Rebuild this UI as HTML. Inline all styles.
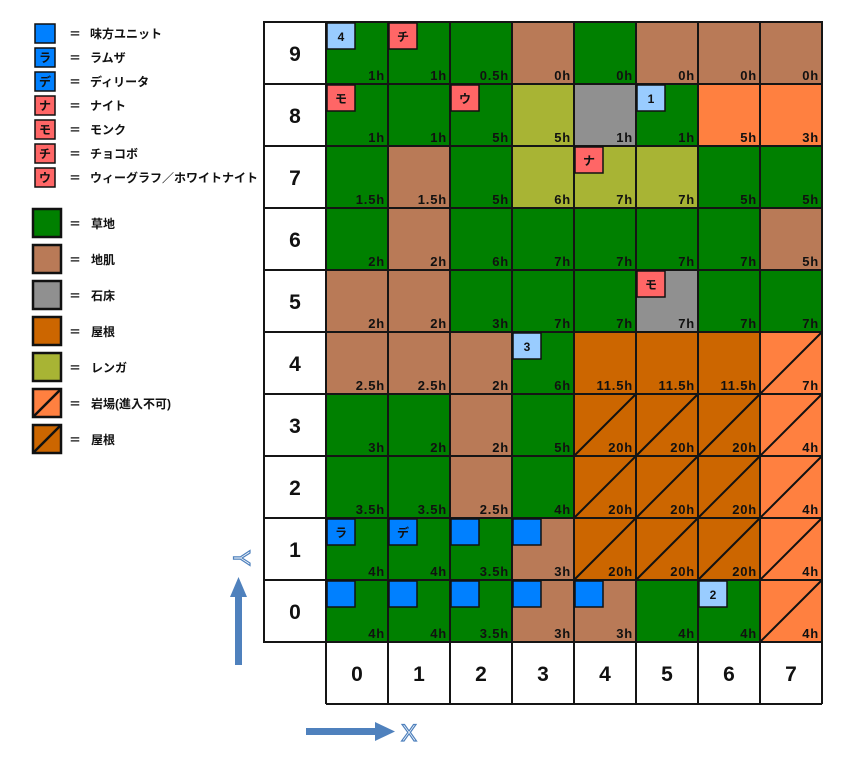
<!DOCTYPE html>
<html><head><meta charset="utf-8"><style>
body{margin:0;background:#fff;}
svg{display:block;font-family:"Liberation Sans","Noto Sans CJK JP",sans-serif;}
.c{font-size:13px;font-weight:bold;fill:#111;text-anchor:end;letter-spacing:0.8px;}
.u{font-size:12px;font-weight:bold;fill:#111;text-anchor:middle;}
.l{font-size:12px;font-weight:bold;fill:#111;}
.n{font-size:21px;font-weight:bold;fill:#111;text-anchor:middle;}
</style></head><body>
<svg width="844" height="762" viewBox="0 0 844 762" xmlns="http://www.w3.org/2000/svg">
<defs>
<g id="d"><line x1="0" y1="62" x2="62" y2="0" stroke="#111" stroke-width="2"/></g>
</defs>
<g stroke="#111" stroke-width="1.5">
<rect x="35" y="24" width="20" height="19" fill="#0080ff"/>
<rect x="35" y="48" width="20" height="19" fill="#0080ff"/>
<rect x="35" y="72" width="20" height="19" fill="#0080ff"/>
<rect x="35" y="96" width="20" height="19" fill="#ff6666"/>
<rect x="35" y="120" width="20" height="19" fill="#ff6666"/>
<rect x="35" y="144" width="20" height="19" fill="#ff6666"/>
<rect x="35" y="168" width="20" height="19" fill="#ff6666"/>
</g>
<g>
<text x="45" y="62" class="u">ラ</text><text x="45" y="86" class="u">デ</text>
<text x="45" y="110" class="u">ナ</text><text x="45" y="134" class="u">モ</text>
<text x="45" y="158" class="u">チ</text><text x="45" y="182" class="u">ウ</text>
</g>
<g class="l">
<text x="69" y="38">＝</text><text x="90" y="38">味方ユニット</text>
<text x="69" y="62">＝</text><text x="90" y="62">ラムザ</text>
<text x="69" y="86">＝</text><text x="90" y="86">ディリータ</text>
<text x="69" y="110">＝</text><text x="90" y="110">ナイト</text>
<text x="69" y="134">＝</text><text x="90" y="134">モンク</text>
<text x="69" y="158">＝</text><text x="90" y="158">チョコボ</text>
<text x="69" y="182">＝</text><text x="90" y="182">ウィーグラフ／ホワイトナイト</text>
</g>
<g stroke="#111" stroke-width="2.5">
<rect x="33" y="209" width="28" height="28" fill="#008000"/>
<rect x="33" y="245" width="28" height="28" fill="#b97a57"/>
<rect x="33" y="281" width="28" height="28" fill="#909090"/>
<rect x="33" y="317" width="28" height="28" fill="#cc6600"/>
<rect x="33" y="353" width="28" height="28" fill="#a8b434"/>
<rect x="33" y="389" width="28" height="28" fill="#ff8040"/>
<line x1="33" y1="417" x2="61" y2="389"/>
<rect x="33" y="425" width="28" height="28" fill="#cc6600"/>
<line x1="33" y1="453" x2="61" y2="425"/>
</g>
<g class="l">
<text x="69" y="228">＝</text><text x="91" y="228">草地</text>
<text x="69" y="264">＝</text><text x="91" y="264">地肌</text>
<text x="69" y="300">＝</text><text x="91" y="300">石床</text>
<text x="69" y="336">＝</text><text x="91" y="336">屋根</text>
<text x="69" y="372">＝</text><text x="91" y="372">レンガ</text>
<text x="69" y="408">＝</text><text x="91" y="408">岩場(進入不可)</text>
<text x="69" y="444">＝</text><text x="91" y="444">屋根</text>
</g>
<g>
<rect x="326" y="22" width="62" height="62" fill="#008000"/><rect x="388" y="22" width="62" height="62" fill="#008000"/><rect x="450" y="22" width="62" height="62" fill="#008000"/><rect x="512" y="22" width="62" height="62" fill="#b97a57"/><rect x="574" y="22" width="62" height="62" fill="#008000"/><rect x="636" y="22" width="62" height="62" fill="#b97a57"/><rect x="698" y="22" width="62" height="62" fill="#b97a57"/><rect x="760" y="22" width="62" height="62" fill="#b97a57"/>
<rect x="326" y="84" width="62" height="62" fill="#008000"/><rect x="388" y="84" width="62" height="62" fill="#008000"/><rect x="450" y="84" width="62" height="62" fill="#008000"/><rect x="512" y="84" width="62" height="62" fill="#a8b434"/><rect x="574" y="84" width="62" height="62" fill="#909090"/><rect x="636" y="84" width="62" height="62" fill="#008000"/><rect x="698" y="84" width="62" height="62" fill="#ff8040"/><rect x="760" y="84" width="62" height="62" fill="#ff8040"/>
<rect x="326" y="146" width="62" height="62" fill="#008000"/><rect x="388" y="146" width="62" height="62" fill="#b97a57"/><rect x="450" y="146" width="62" height="62" fill="#008000"/><rect x="512" y="146" width="62" height="62" fill="#a8b434"/><rect x="574" y="146" width="62" height="62" fill="#a8b434"/><rect x="636" y="146" width="62" height="62" fill="#a8b434"/><rect x="698" y="146" width="62" height="62" fill="#008000"/><rect x="760" y="146" width="62" height="62" fill="#008000"/>
<rect x="326" y="208" width="62" height="62" fill="#008000"/><rect x="388" y="208" width="62" height="62" fill="#b97a57"/><rect x="450" y="208" width="62" height="62" fill="#008000"/><rect x="512" y="208" width="62" height="62" fill="#008000"/><rect x="574" y="208" width="62" height="62" fill="#008000"/><rect x="636" y="208" width="62" height="62" fill="#008000"/><rect x="698" y="208" width="62" height="62" fill="#008000"/><rect x="760" y="208" width="62" height="62" fill="#b97a57"/>
<rect x="326" y="270" width="62" height="62" fill="#b97a57"/><rect x="388" y="270" width="62" height="62" fill="#b97a57"/><rect x="450" y="270" width="62" height="62" fill="#008000"/><rect x="512" y="270" width="62" height="62" fill="#008000"/><rect x="574" y="270" width="62" height="62" fill="#008000"/><rect x="636" y="270" width="62" height="62" fill="#909090"/><rect x="698" y="270" width="62" height="62" fill="#008000"/><rect x="760" y="270" width="62" height="62" fill="#008000"/>
<rect x="326" y="332" width="62" height="62" fill="#b97a57"/><rect x="388" y="332" width="62" height="62" fill="#b97a57"/><rect x="450" y="332" width="62" height="62" fill="#b97a57"/><rect x="512" y="332" width="62" height="62" fill="#008000"/><rect x="574" y="332" width="62" height="62" fill="#cc6600"/><rect x="636" y="332" width="62" height="62" fill="#cc6600"/><rect x="698" y="332" width="62" height="62" fill="#cc6600"/><rect x="760" y="332" width="62" height="62" fill="#ff8040"/>
<rect x="326" y="394" width="62" height="62" fill="#008000"/><rect x="388" y="394" width="62" height="62" fill="#008000"/><rect x="450" y="394" width="62" height="62" fill="#b97a57"/><rect x="512" y="394" width="62" height="62" fill="#008000"/><rect x="574" y="394" width="186" height="62" fill="#cc6600"/><rect x="760" y="394" width="62" height="62" fill="#ff8040"/>
<rect x="326" y="456" width="62" height="62" fill="#008000"/><rect x="388" y="456" width="62" height="62" fill="#008000"/><rect x="450" y="456" width="62" height="62" fill="#b97a57"/><rect x="512" y="456" width="62" height="62" fill="#008000"/><rect x="574" y="456" width="186" height="62" fill="#cc6600"/><rect x="760" y="456" width="62" height="62" fill="#ff8040"/>
<rect x="326" y="518" width="62" height="62" fill="#008000"/><rect x="388" y="518" width="62" height="62" fill="#008000"/><rect x="450" y="518" width="62" height="62" fill="#008000"/><rect x="512" y="518" width="62" height="62" fill="#b97a57"/><rect x="574" y="518" width="186" height="62" fill="#cc6600"/><rect x="760" y="518" width="62" height="62" fill="#ff8040"/>
<rect x="326" y="580" width="62" height="62" fill="#008000"/><rect x="388" y="580" width="62" height="62" fill="#008000"/><rect x="450" y="580" width="62" height="62" fill="#008000"/><rect x="512" y="580" width="62" height="62" fill="#b97a57"/><rect x="574" y="580" width="62" height="62" fill="#b97a57"/><rect x="636" y="580" width="62" height="62" fill="#008000"/><rect x="698" y="580" width="62" height="62" fill="#008000"/><rect x="760" y="580" width="62" height="62" fill="#ff8040"/>
</g>
<use href="#d" x="760" y="332"/>
<use href="#d" x="574" y="394"/><use href="#d" x="636" y="394"/><use href="#d" x="698" y="394"/><use href="#d" x="760" y="394"/>
<use href="#d" x="574" y="456"/><use href="#d" x="636" y="456"/><use href="#d" x="698" y="456"/><use href="#d" x="760" y="456"/>
<use href="#d" x="574" y="518"/><use href="#d" x="636" y="518"/><use href="#d" x="698" y="518"/><use href="#d" x="760" y="518"/>
<use href="#d" x="760" y="580"/>
<g stroke="#151515" stroke-width="2" fill="none">
<rect x="264" y="22" width="558" height="620"/>
<line x1="326" y1="22" x2="326" y2="704"/><line x1="388" y1="22" x2="388" y2="704"/><line x1="450" y1="22" x2="450" y2="704"/><line x1="512" y1="22" x2="512" y2="704"/><line x1="574" y1="22" x2="574" y2="704"/><line x1="636" y1="22" x2="636" y2="704"/><line x1="698" y1="22" x2="698" y2="704"/><line x1="760" y1="22" x2="760" y2="704"/><line x1="822" y1="22" x2="822" y2="704"/>
<line x1="264" y1="84" x2="822" y2="84"/><line x1="264" y1="146" x2="822" y2="146"/><line x1="264" y1="208" x2="822" y2="208"/><line x1="264" y1="270" x2="822" y2="270"/><line x1="264" y1="332" x2="822" y2="332"/><line x1="264" y1="394" x2="822" y2="394"/><line x1="264" y1="456" x2="822" y2="456"/><line x1="264" y1="518" x2="822" y2="518"/><line x1="264" y1="580" x2="822" y2="580"/>
<line x1="326" y1="704" x2="822" y2="704"/>
</g>
<g stroke="#111" stroke-width="1.5">
<rect x="327" y="23" width="28" height="26" fill="#99ccff"/><rect x="389" y="23" width="28" height="26" fill="#ff6666"/>
<rect x="327" y="85" width="28" height="26" fill="#ff6666"/><rect x="451" y="85" width="28" height="26" fill="#ff6666"/><rect x="637" y="85" width="28" height="26" fill="#99ccff"/>
<rect x="575" y="147" width="28" height="26" fill="#ff6666"/>
<rect x="637" y="271" width="28" height="26" fill="#ff6666"/>
<rect x="513" y="333" width="28" height="26" fill="#99ccff"/>
<rect x="327" y="519" width="28" height="26" fill="#0080ff"/><rect x="389" y="519" width="28" height="26" fill="#0080ff"/><rect x="451" y="519" width="28" height="26" fill="#0080ff"/><rect x="513" y="519" width="28" height="26" fill="#0080ff"/>
<rect x="327" y="581" width="28" height="26" fill="#0080ff"/><rect x="389" y="581" width="28" height="26" fill="#0080ff"/><rect x="451" y="581" width="28" height="26" fill="#0080ff"/><rect x="513" y="581" width="28" height="26" fill="#0080ff"/><rect x="575" y="581" width="28" height="26" fill="#0080ff"/>
<rect x="699" y="581" width="28" height="26" fill="#99ccff"/>
</g>
<g>
<text x="341" y="41" class="u">4</text><text x="403" y="41" class="u">チ</text>
<text x="341" y="103" class="u">モ</text><text x="465" y="103" class="u">ウ</text><text x="651" y="103" class="u">1</text>
<text x="589" y="165" class="u">ナ</text>
<text x="651" y="289" class="u">モ</text>
<text x="527" y="351" class="u">3</text>
<text x="341" y="537" class="u">ラ</text><text x="403" y="537" class="u">デ</text>
<text x="713" y="599" class="u">2</text>
</g>
<g class="c">
<text x="385" y="80">1h</text><text x="447" y="80">1h</text><text x="509" y="80">0.5h</text><text x="571" y="80">0h</text><text x="633" y="80">0h</text><text x="695" y="80">0h</text><text x="757" y="80">0h</text><text x="819" y="80">0h</text>
<text x="385" y="142">1h</text><text x="447" y="142">1h</text><text x="509" y="142">5h</text><text x="571" y="142">5h</text><text x="633" y="142">1h</text><text x="695" y="142">1h</text><text x="757" y="142">5h</text><text x="819" y="142">3h</text>
<text x="385" y="204">1.5h</text><text x="447" y="204">1.5h</text><text x="509" y="204">5h</text><text x="571" y="204">6h</text><text x="633" y="204">7h</text><text x="695" y="204">7h</text><text x="757" y="204">5h</text><text x="819" y="204">5h</text>
<text x="385" y="266">2h</text><text x="447" y="266">2h</text><text x="509" y="266">6h</text><text x="571" y="266">7h</text><text x="633" y="266">7h</text><text x="695" y="266">7h</text><text x="757" y="266">7h</text><text x="819" y="266">5h</text>
<text x="385" y="328">2h</text><text x="447" y="328">2h</text><text x="509" y="328">3h</text><text x="571" y="328">7h</text><text x="633" y="328">7h</text><text x="695" y="328">7h</text><text x="757" y="328">7h</text><text x="819" y="328">7h</text>
<text x="385" y="390">2.5h</text><text x="447" y="390">2.5h</text><text x="509" y="390">2h</text><text x="571" y="390">6h</text><text x="633" y="390">11.5h</text><text x="695" y="390">11.5h</text><text x="757" y="390">11.5h</text><text x="819" y="390">7h</text>
<text x="385" y="452">3h</text><text x="447" y="452">2h</text><text x="509" y="452">2h</text><text x="571" y="452">5h</text><text x="633" y="452">20h</text><text x="695" y="452">20h</text><text x="757" y="452">20h</text><text x="819" y="452">4h</text>
<text x="385" y="514">3.5h</text><text x="447" y="514">3.5h</text><text x="509" y="514">2.5h</text><text x="571" y="514">4h</text><text x="633" y="514">20h</text><text x="695" y="514">20h</text><text x="757" y="514">20h</text><text x="819" y="514">4h</text>
<text x="385" y="576">4h</text><text x="447" y="576">4h</text><text x="509" y="576">3.5h</text><text x="571" y="576">3h</text><text x="633" y="576">20h</text><text x="695" y="576">20h</text><text x="757" y="576">20h</text><text x="819" y="576">4h</text>
<text x="385" y="638">4h</text><text x="447" y="638">4h</text><text x="509" y="638">3.5h</text><text x="571" y="638">3h</text><text x="633" y="638">3h</text><text x="695" y="638">4h</text><text x="757" y="638">4h</text><text x="819" y="638">4h</text>
</g>
<g class="n">
<text x="295" y="61">9</text><text x="295" y="123">8</text><text x="295" y="185">7</text><text x="295" y="247">6</text><text x="295" y="309">5</text><text x="295" y="371">4</text><text x="295" y="433">3</text><text x="295" y="495">2</text><text x="295" y="557">1</text><text x="295" y="619">0</text>
<text x="357" y="681">0</text><text x="419" y="681">1</text><text x="481" y="681">2</text><text x="543" y="681">3</text><text x="605" y="681">4</text><text x="667" y="681">5</text><text x="729" y="681">6</text><text x="791" y="681">7</text>
</g>
<g fill="#4f81bd">
<rect x="235" y="596" width="7" height="69"/>
<polygon points="238.5,577 230,597 247,597"/>
<rect x="306" y="728" width="70" height="7"/>
<polygon points="395,731.5 375,722 375,741"/>
</g>
<text x="0" y="0" transform="translate(241,558) rotate(90)" font-size="24" fill="#fff" stroke="#4f81bd" stroke-width="1.2" text-anchor="middle" dominant-baseline="central">Y</text>
<text x="409" y="741" font-size="24" fill="#fff" stroke="#4f81bd" stroke-width="1.2" text-anchor="middle">X</text>
</svg>
</body></html>
